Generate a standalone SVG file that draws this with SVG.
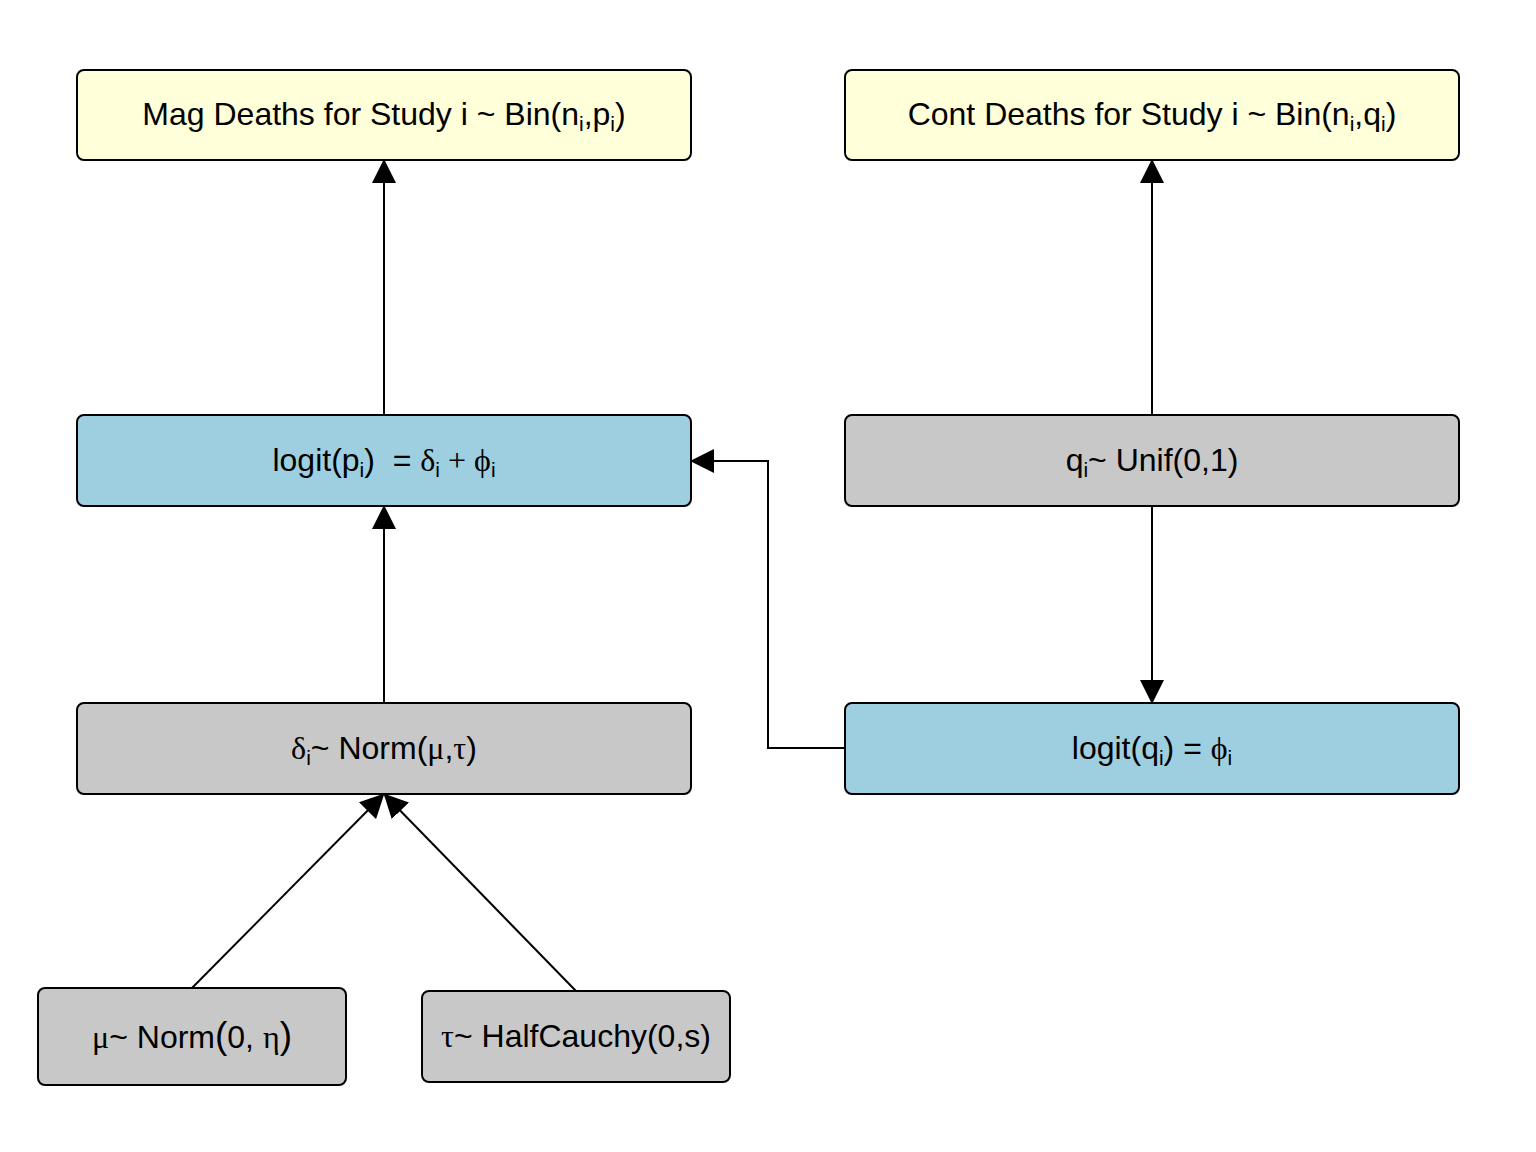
<svg xmlns="http://www.w3.org/2000/svg" width="1536" height="1152" viewBox="0 0 1536 1152">
<style>
.box{stroke:#000;stroke-width:2}
.yel{fill:#FFFFD9}
.blu{fill:#9ECFE0}
.gry{fill:#C8C8C8}
text{font-family:"Liberation Sans",Arial,sans-serif;font-size:32px;fill:#000;text-anchor:middle}
.g{font-family:"Liberation Serif","Times New Roman",serif}
.sub{font-size:21px}
.conn{fill:none;stroke:#000;stroke-width:2}
</style>
<defs>
<marker id="ah" markerWidth="24" markerHeight="24" viewBox="0 0 24 24" refX="22" refY="12" orient="auto" markerUnits="userSpaceOnUse">
<path d="M0,0 L24,12 L0,24 Z" fill="#000"/>
</marker>
</defs>
<rect width="1536" height="1152" fill="#fff"/>
<g id="connectors">
<line class="conn" x1="384" y1="415" x2="384" y2="161" marker-end="url(#ah)"/>
<line class="conn" x1="1152" y1="415" x2="1152" y2="161" marker-end="url(#ah)"/>
<line class="conn" x1="1152" y1="506" x2="1152" y2="702" marker-end="url(#ah)"/>
<polyline class="conn" points="845,748 768,748 768,461 692,461" marker-end="url(#ah)"/>
<line class="conn" x1="384" y1="703" x2="384" y2="507" marker-end="url(#ah)"/>
<line class="conn" x1="192" y1="988" x2="383" y2="795" marker-end="url(#ah)"/>
<line class="conn" x1="576" y1="991" x2="385" y2="795" marker-end="url(#ah)"/>
</g>
<g id="mag">
<rect class="box yel" x="77" y="70" width="614" height="90" rx="7"/>
<text x="384" y="125">Mag Deaths for Study i ~ Bin(n<tspan class="sub" dy="6">i</tspan><tspan dy="-6">,p</tspan><tspan class="sub" dy="6">i</tspan><tspan dy="-6">)</tspan></text>
</g>
<g id="cont">
<rect class="box yel" x="845" y="70" width="614" height="90" rx="7"/>
<text x="1152" y="125">Cont Deaths for Study i ~ Bin(n<tspan class="sub" dy="6">i</tspan><tspan dy="-6">,q</tspan><tspan class="sub" dy="6">i</tspan><tspan dy="-6">)</tspan></text>
</g>
<g id="logitp">
<rect class="box blu" x="77" y="415" width="614" height="91" rx="7"/>
<text x="384" y="471">logit(p<tspan class="sub" dy="6">i</tspan><tspan dy="-6">)&#160; = </tspan><tspan class="g">δ</tspan><tspan class="sub" dy="6">i</tspan><tspan class="g" dy="-6"> + ϕ</tspan><tspan class="sub" dy="6">i</tspan></text>
</g>
<g id="q">
<rect class="box gry" x="845" y="415" width="614" height="91" rx="7"/>
<text x="1152" y="471">q<tspan class="sub" dy="6">i</tspan><tspan dy="-6">~ Unif(0,1)</tspan></text>
</g>
<g id="delta">
<rect class="box gry" x="77" y="703" width="614" height="91" rx="7"/>
<text x="384" y="759"><tspan class="g">δ</tspan><tspan class="sub" dy="6">i</tspan><tspan dy="-6">~ Norm(</tspan><tspan class="g">μ</tspan>,<tspan class="g">τ</tspan>)</text>
</g>
<g id="logitq">
<rect class="box blu" x="845" y="703" width="614" height="91" rx="7"/>
<text x="1152" y="759">logit(q<tspan class="sub" dy="6">i</tspan><tspan dy="-6">) = </tspan><tspan class="g">ϕ</tspan><tspan class="sub" dy="6">i</tspan></text>
</g>
<g id="mu">
<rect class="box gry" x="38" y="988" width="308" height="97" rx="7"/>
<text x="192" y="1048"><tspan class="g">μ</tspan>~ Norm<tspan font-size="37">(</tspan>0, <tspan class="g">η</tspan><tspan font-size="37">)</tspan></text>
</g>
<g id="tau">
<rect class="box gry" x="422" y="991" width="308" height="91" rx="7"/>
<text x="576" y="1047"><tspan class="g">τ</tspan>~ HalfCauchy(0,s)</text>
</g>
</svg>
